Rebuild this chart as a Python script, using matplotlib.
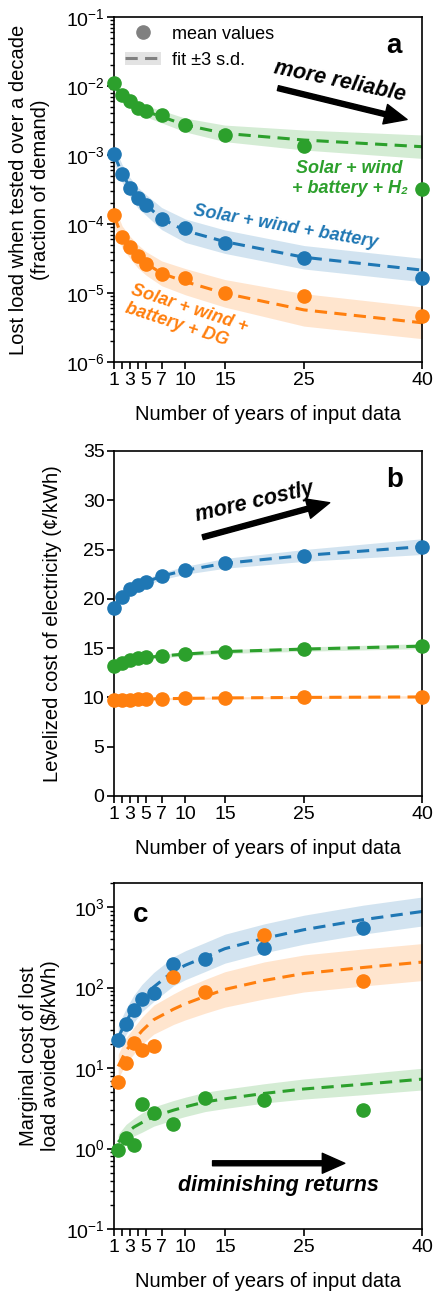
import numpy as np
import matplotlib
matplotlib.use("Agg")
import matplotlib.pyplot as plt
from matplotlib.lines import Line2D
from matplotlib.patches import Patch
from matplotlib.ticker import LogLocator, NullFormatter

plt.rcParams['font.family'] = ['Liberation Sans', 'DejaVu Sans']
plt.rcParams['mathtext.fontset'] = 'custom'
plt.rcParams['mathtext.rm'] = 'Liberation Sans'
plt.rcParams['mathtext.it'] = 'Liberation Sans:italic'
plt.rcParams['mathtext.bf'] = 'Liberation Sans:bold'
plt.rcParams['axes.linewidth'] = 1.2

BLUE = '#1f77b4'
ORANGE = '#ff7f0e'
GREEN = '#2ca02c'

# --- data ---
years = [1, 2, 3, 4, 5, 7, 10, 15, 25, 40]
year_ticks = [1, 2, 3, 4, 5, 7, 10, 15, 25, 40]
year_labels = ['1', '', '3', '', '5', '7', '10', '15', '25', '40']

# a: lost load (fraction of demand)
lol_battery = [1.03e-3, 5.3e-4, 3.36e-4, 2.35e-4, 1.88e-4, 1.18e-4, 8.85e-5, 5.4e-5, 3.18e-5, 1.63e-5]
lol_dg = [1.35e-4, 6.4e-5, 4.7e-5, 3.43e-5, 2.6e-5, 1.88e-5, 1.63e-5, 1.01e-5, 9.1e-6, 4.7e-6]
lol_h2 = [1.09e-2, 7.4e-3, 6.1e-3, 4.75e-3, 4.4e-3, 3.8e-3, 2.72e-3, 1.95e-3, 1.36e-3, 3.2e-4]
fit_lol_battery = [1.0e-3, 5.4e-4, 3.4e-4, 2.4e-4, 1.9e-4, 1.2e-4, 8.0e-5, 5.55e-5, 3.3e-5, 2.15e-5]
fit_lol_dg = [1.3e-4, 6.5e-5, 4.6e-5, 3.4e-5, 2.7e-5, 1.93e-5, 1.46e-5, 9.9e-6, 5.7e-6, 3.7e-6]
fit_lol_h2 = [1.0e-2, 7.3e-3, 5.9e-3, 4.9e-3, 4.3e-3, 3.6e-3, 2.72e-3, 2.06e-3, 1.65e-3, 1.32e-3]
# band half width, decades
sd_lol_battery = [0.13, 0.13, 0.14, 0.15, 0.15, 0.16, 0.17, 0.17, 0.17, 0.17]
sd_lol_dg = [0.15, 0.16, 0.16, 0.17, 0.17, 0.18, 0.19, 0.2, 0.235, 0.23]
sd_lol_h2 = [0.06, 0.065, 0.07, 0.075, 0.08, 0.09, 0.1, 0.12, 0.145, 0.17]

# b: levelized cost (cents/kWh)
lcoe_battery = [19.04, 20.22, 20.97, 21.4, 21.74, 22.35, 22.93, 23.67, 24.38, 25.23]
lcoe_dg = [9.74, 9.76, 9.78, 9.8, 9.82, 9.86, 9.9, 9.95, 10.0, 10.05]
lcoe_h2 = [13.22, 13.52, 13.8, 13.97, 14.07, 14.2, 14.4, 14.64, 14.91, 15.22]
fit_lcoe_battery = [19.3, 20.2, 20.9, 21.4, 21.7, 22.3, 22.9, 23.6, 24.4, 25.3]
fit_lcoe_dg = [9.76, 9.78, 9.8, 9.82, 9.84, 9.87, 9.9, 9.95, 10.0, 10.05]
fit_lcoe_h2 = [13.3, 13.6, 13.8, 13.95, 14.05, 14.2, 14.4, 14.65, 14.9, 15.2]
sd_lcoe_battery = [0.3, 0.3, 0.3, 0.32, 0.33, 0.35, 0.4, 0.5, 0.6, 0.8]
sd_lcoe_dg = [0.1, 0.1, 0.1, 0.1, 0.1, 0.1, 0.1, 0.1, 0.12, 0.12]
sd_lcoe_h2 = [0.15, 0.15, 0.15, 0.16, 0.17, 0.18, 0.2, 0.2, 0.22, 0.25]

# c: marginal cost of lost load avoided ($/kWh)
mid_years = [1.5, 2.5, 3.5, 4.5, 6, 8.5, 12.5, 20, 32.5]
mc_battery = [22.2, 35.7, 52.3, 73, 87, 198, 229, 313, 554]
mc_dg = [6.75, 11.6, 20.5, 16.7, 18.7, 135, 88, 455, 120]
mc_h2 = [0.95, 1.36, 1.12, 3.56, 2.73, 2.02, 4.2, 4.0, 3.0]
fit_years = [1.5, 2.5, 3.5, 4.5, 6, 8.5, 10, 12.5, 15, 20, 25, 32.5, 40]
fit_mc_battery = [24, 38, 55, 74, 102, 160, 190, 240, 305, 410, 525, 700, 885]
fit_mc_dg = [10.5, 16.5, 22, 29, 40, 54, 63, 78, 95, 123, 150, 178, 208]
fit_mc_h2 = [1.2, 1.55, 1.85, 2.1, 2.5, 3.0, 3.3, 3.8, 4.15, 4.85, 5.5, 6.3, 7.3]
sd_mc_battery = [0.15, 0.16, 0.17, 0.17, 0.18, 0.18, 0.18, 0.18, 0.18, 0.18, 0.18, 0.18, 0.18]
sd_mc_dg = [0.15, 0.16, 0.165, 0.17, 0.18, 0.19, 0.2, 0.21, 0.22, 0.23, 0.23, 0.23, 0.23]
sd_mc_h2 = [0.1, 0.11, 0.11, 0.12, 0.12, 0.12, 0.12, 0.12, 0.12, 0.12, 0.125, 0.13, 0.135]

DASH = (0, (4, 2.4))
ARROW = dict(arrowstyle='simple,head_length=0.9,head_width=0.8,tail_width=0.2',
             fc='k', ec='k', mutation_scale=18, shrinkA=0, shrinkB=0)
LABEL_FONT = dict(fontsize=13, fontweight='bold', fontstyle='italic')


def draw_series(ax, x, y, fx, fy, sd, color, log):
    fy = np.array(fy)
    sd = np.array(sd)
    if log:
        lo, hi = fy / 10 ** sd, fy * 10 ** sd
    else:
        lo, hi = fy - sd, fy + sd
    ax.fill_between(fx, lo, hi, color=color, alpha=0.2, lw=0)
    ax.plot(fx, fy, ls=DASH, color=color, lw=2.2)
    ax.plot(x, y, 'o', color=color, ms=9.5, clip_on=False, zorder=5)


def style_axis(ax, log):
    ax.set_xlim(1, 40)
    ax.set_xticks(year_ticks)
    ax.set_xticklabels(year_labels)
    ax.tick_params(axis='both', which='major', labelsize=14, length=5, width=1.2, pad=2)
    ax.tick_params(axis='y', which='minor', length=2.8, width=1.0)
    if log:
        ax.set_yscale('log')
        ax.yaxis.set_major_locator(LogLocator(base=10, numticks=20))
        ax.yaxis.set_minor_locator(LogLocator(base=10, subs=np.arange(2, 10), numticks=20))
        ax.yaxis.set_minor_formatter(NullFormatter())
    ax.set_xlabel('Number of years of input data', fontsize=14.5)
    ax.xaxis.set_label_coords(0.5, -0.125)


fig = plt.figure(figsize=(4.41, 13), dpi=100)
ax_a = fig.add_axes([0.259, 0.7215, 0.699, 0.2654])
ax_b = fig.add_axes([0.259, 0.3877, 0.699, 0.2654])
ax_c = fig.add_axes([0.259, 0.0546, 0.699, 0.2662])

# --- panel a ---
draw_series(ax_a, years, lol_dg, years, fit_lol_dg, sd_lol_dg, ORANGE, True)
draw_series(ax_a, years, lol_battery, years, fit_lol_battery, sd_lol_battery, BLUE, True)
draw_series(ax_a, years, lol_h2, years, fit_lol_h2, sd_lol_h2, GREEN, True)
style_axis(ax_a, True)
ax_a.set_ylim(1e-6, 1e-1)
ax_a.set_ylabel('Lost load when tested over a decade\n(fraction of demand)', fontsize=14.5)
ax_a.yaxis.set_label_coords(-0.2085, 0.5)

h_dot = Line2D([], [], marker='o', color='#808080', ls='none', ms=9.5)
h_fit = (Patch(facecolor='#e3e3e3', lw=0),
         Line2D([], [], color='#808080', ls=DASH, lw=2.2))
ax_a.legend([h_dot, h_fit], ['mean values', 'fit ±3 s.d.'], loc='upper left',
            bbox_to_anchor=(0.035, 0.975), frameon=False, fontsize=13,
            borderpad=0, borderaxespad=0, handlelength=2.0, handletextpad=0.6)

ax_a.text(0.908, 0.916, 'a', transform=ax_a.transAxes, fontsize=20,
          fontweight='bold', ha='center', va='center')
ax_a.text(0.732, 0.8125, 'more reliable', transform=ax_a.transAxes, rotation=-12,
          ha='center', va='center', rotation_mode='anchor', fontsize=15.5,
          fontweight='bold', fontstyle='italic')
ax_a.annotate('', xy=(0.950, 0.703), xytext=(0.531, 0.794),
              xycoords='axes fraction', arrowprops=ARROW)
ax_a.text(0.764, 0.532, 'Solar + wind\n+ battery + H\u2082', transform=ax_a.transAxes,
          ha='center', va='center', color=GREEN, **LABEL_FONT)
ax_a.text(0.557, 0.392, 'Solar + wind + battery', transform=ax_a.transAxes,
          rotation=-10, rotation_mode='anchor', ha='center', va='center',
          color=BLUE, **LABEL_FONT)
ax_a.text(0.235, 0.128, 'Solar + wind +\nbattery + DG', transform=ax_a.transAxes,
          rotation=-18, rotation_mode='anchor', ha='center', va='center',
          multialignment='left', color=ORANGE, **LABEL_FONT)

# --- panel b ---
draw_series(ax_b, years, lcoe_dg, years, fit_lcoe_dg, sd_lcoe_dg, ORANGE, False)
draw_series(ax_b, years, lcoe_h2, years, fit_lcoe_h2, sd_lcoe_h2, GREEN, False)
draw_series(ax_b, years, lcoe_battery, years, fit_lcoe_battery, sd_lcoe_battery, BLUE, False)
style_axis(ax_b, False)
ax_b.set_ylim(0, 35)
ax_b.set_yticks([0, 5, 10, 15, 20, 25, 30, 35])
ax_b.set_ylabel('Levelized cost of electricity (\u00a2/kWh)', fontsize=14.5)
ax_b.yaxis.set_label_coords(-0.1705, 0.5)
ax_b.text(0.910, 0.916, 'b', transform=ax_b.transAxes, fontsize=20,
          fontweight='bold', ha='center', va='center')
ax_b.text(0.456, 0.853, 'more costly', transform=ax_b.transAxes, rotation=13,
          ha='center', va='center', rotation_mode='anchor', fontsize=15.5,
          fontweight='bold', fontstyle='italic')
ax_b.annotate('', xy=(0.699, 0.850), xytext=(0.287, 0.750),
              xycoords='axes fraction', arrowprops=ARROW)

# --- panel c ---
draw_series(ax_c, mid_years, mc_battery, fit_years, fit_mc_battery, sd_mc_battery, BLUE, True)
draw_series(ax_c, mid_years, mc_dg, fit_years, fit_mc_dg, sd_mc_dg, ORANGE, True)
draw_series(ax_c, mid_years, mc_h2, fit_years, fit_mc_h2, sd_mc_h2, GREEN, True)
style_axis(ax_c, True)
ax_c.set_ylim(0.1, 2000)
ax_c.set_ylabel('Marginal cost of lost\nload avoided ($/kWh)', fontsize=14.5)
ax_c.yaxis.set_label_coords(-0.176, 0.5)
ax_c.text(0.086, 0.908, 'c', transform=ax_c.transAxes, fontsize=20,
          fontweight='bold', ha='center', va='center')
ax_c.annotate('', xy=(0.748, 0.190), xytext=(0.319, 0.190),
              xycoords='axes fraction', arrowprops=ARROW)
ax_c.text(0.533, 0.127, 'diminishing returns', transform=ax_c.transAxes,
          ha='center', va='center', fontsize=15.5, fontweight='bold',
          fontstyle='italic')

fig.savefig('out.png', dpi=100)
